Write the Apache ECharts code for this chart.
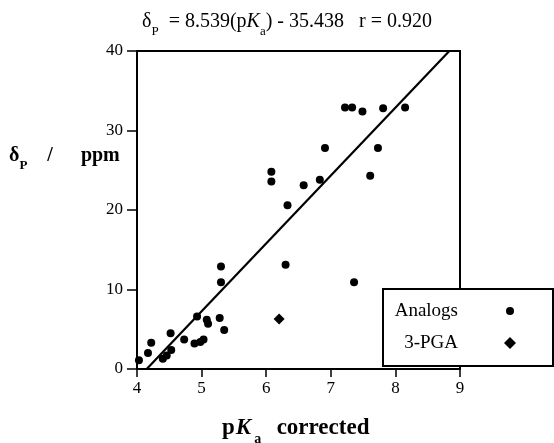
<!DOCTYPE html>
<html><head><meta charset="utf-8">
<script src="https://cdn.jsdelivr.net/npm/echarts@6/dist/echarts.min.js"></script>
<style>html,body{margin:0;padding:0;background:#fff}#c{width:554px;height:443px}</style>
</head><body><div id="c"></div>
<script>
const analogsX = [7.22,7.33,7.49,7.81,8.15,6.91,7.73,6.08,6.08,6.58,6.83,7.61,6.33,5.30,6.30,5.30,7.36,
  4.93,5.08,5.10,5.28,5.35,4.52,4.73,4.89,4.98,5.03,4.22,4.17,4.03,4.40,4.46,4.53];
const analogsY = [32.9,32.9,32.4,32.8,32.9,27.8,27.8,24.8,23.6,23.1,23.8,24.3,20.6,12.9,13.1,10.9,10.9,
  6.6,6.2,5.7,6.4,4.9,4.5,3.7,3.2,3.4,3.7,3.3,2.0,1.1,1.3,1.7,2.4];
const pgaX = [6.20];
const pgaY = [6.3];
const fitX = [4.15, 8.835];
const fitY = [0, 40];
const xTicks = [4,5,6,7,8,9];
const yTicks = [0,10,20,30,40];
const legendNames = ['Analogs','3-PGA'];

const serif = '"Liberation Serif","DejaVu Serif",serif';
const chart = echarts.init(document.getElementById('c'));
chart.setOption({
  animation:false,
  backgroundColor:'#fff',
  title:{
    left:137, top:3,
    text:'{t|δ}{s|P}{t|  = 8.539(p}{i|K}{s|a}{t|) - 35.438   r = 0.920}',
    textStyle:{fontWeight:'normal',rich:{
      t:{fontFamily:serif,fontSize:20,fontWeight:'normal',color:'#000',verticalAlign:'bottom',lineHeight:24},
      i:{fontFamily:serif,fontSize:20,fontWeight:'normal',fontStyle:'italic',color:'#000',verticalAlign:'bottom',lineHeight:24},
      s:{fontFamily:serif,fontSize:13,fontWeight:'normal',color:'#000',verticalAlign:'bottom',lineHeight:24,padding:[0,0,-6,0]}
    }}
  },
  grid:{left:137,right:94,top:51,bottom:74,show:true,borderColor:'#000',borderWidth:2,backgroundColor:'transparent'},
  xAxis:{type:'value',min:xTicks[0],max:xTicks[xTicks.length-1],interval:1,
    axisLine:{show:true,onZero:false,lineStyle:{color:'#000',width:2}},
    axisTick:{show:true,inside:false,length:8,lineStyle:{color:'#000',width:1.5}},
    axisLabel:{color:'#000',fontFamily:serif,fontSize:17,margin:11},
    splitLine:{show:false}},
  yAxis:{type:'value',min:yTicks[0],max:yTicks[yTicks.length-1],interval:10,
    axisLine:{show:true,onZero:false,lineStyle:{color:'#000',width:2}},
    axisTick:{show:true,inside:false,length:10,lineStyle:{color:'#000',width:1.5}},
    axisLabel:{color:'#000',fontFamily:serif,fontSize:17,margin:14},
    splitLine:{show:false}},
  graphic:[
    {type:'text',left:9,top:146,z:10,style:{
      text:'{b|δ}{s|P}{c|/}{b|ppm}',
      rich:{
        b:{fontFamily:serif,fontSize:20,fontWeight:'bold',fill:'#000',verticalAlign:'bottom',lineHeight:24},
        c:{fontFamily:serif,fontSize:20,fontWeight:'bold',fill:'#000',verticalAlign:'bottom',lineHeight:24,padding:[0,28,0,20]},
        s:{fontFamily:serif,fontSize:13,fontWeight:'bold',fill:'#000',verticalAlign:'bottom',lineHeight:24,padding:[0,0,-6,0]}
      }}},
    {type:'text',left:222,top:417,z:10,style:{
      text:'{b|p}{i|K}{s|a}{b|  corrected}',
      rich:{
        b:{fontFamily:serif,fontSize:23,fontWeight:'bold',fill:'#000',verticalAlign:'bottom',lineHeight:26},
        i:{fontFamily:serif,fontSize:23,fontWeight:'bold',fontStyle:'italic',fill:'#000',verticalAlign:'bottom',lineHeight:26,padding:[0,3,0,1]},
        s:{fontFamily:serif,fontSize:14,fontWeight:'bold',fill:'#000',verticalAlign:'bottom',lineHeight:26,padding:[0,4,-6,0]}
      }}},
    {type:'rect',z:100,shape:{x:383,y:289,width:170,height:77},style:{fill:'#fff',stroke:'#000',lineWidth:2}},
    {type:'text',z:101,x:458,y:311,style:{text:legendNames[0],align:'right',verticalAlign:'middle',font:'19px '+serif,fill:'#000'}},
    {type:'text',z:101,x:458,y:343,style:{text:legendNames[1],align:'right',verticalAlign:'middle',font:'19px '+serif,fill:'#000'}},
    {type:'circle',z:101,shape:{cx:510,cy:311,r:4},style:{fill:'#000'}},
    {type:'polygon',z:101,shape:{points:[[510,337],[516,343],[510,349],[504,343]]},style:{fill:'#000'}}
  ],
  series:[
    {type:'line',name:'fit',data:fitX.map((x,i)=>[x,fitY[i]]),symbol:'none',
      lineStyle:{color:'#000',width:2.2},z:3,silent:true},
    {type:'scatter',name:legendNames[0],data:analogsX.map((x,i)=>[x,analogsY[i]]),
      symbol:'circle',symbolSize:8,itemStyle:{color:'#000',opacity:1},z:4},
    {type:'scatter',name:legendNames[1],data:pgaX.map((x,i)=>[x,pgaY[i]]),
      symbol:'diamond',symbolSize:11,itemStyle:{color:'#000',opacity:1},z:4}
  ]
});
</script></body></html>
